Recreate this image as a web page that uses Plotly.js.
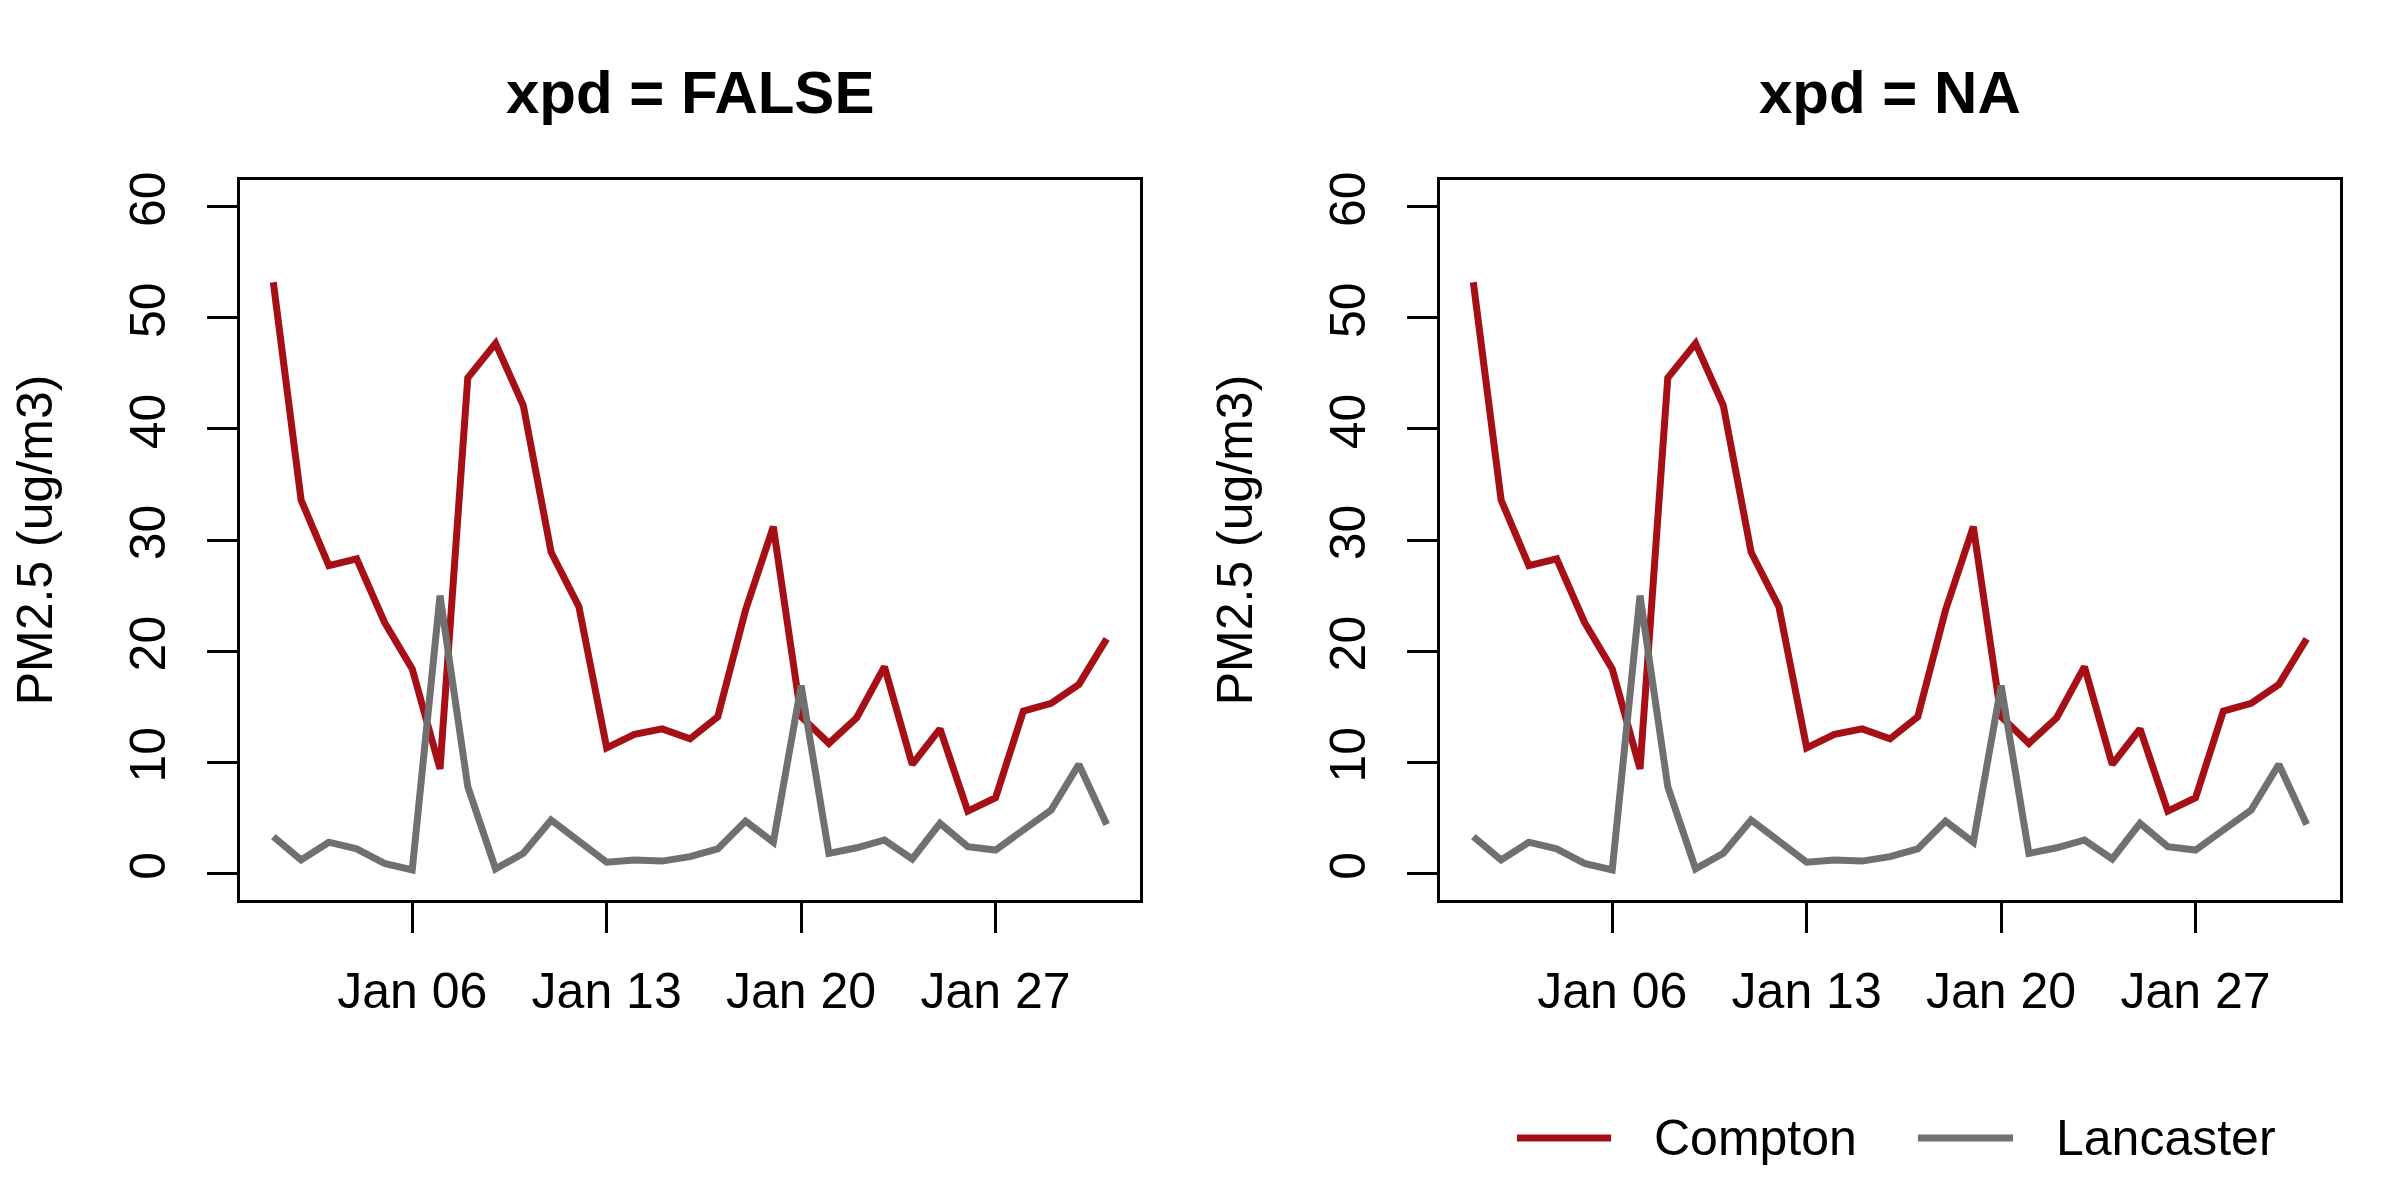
<!DOCTYPE html>
<html>
<head>
<meta charset="utf-8">
<script src="https://cdn.plot.ly/plotly-3.0.1.min.js"></script>
<style>
  html, body { margin: 0; padding: 0; background: #fff; }
  #plot { width: 2400px; height: 1200px; }
</style>
</head>
<body>
<div id="plot"></div>
<script>
var dates = [
  "2019-01-01", "2019-01-02", "2019-01-03", "2019-01-04", "2019-01-05",
  "2019-01-06", "2019-01-07", "2019-01-08", "2019-01-09", "2019-01-10",
  "2019-01-11", "2019-01-12", "2019-01-13", "2019-01-14", "2019-01-15",
  "2019-01-16", "2019-01-17", "2019-01-18", "2019-01-19", "2019-01-20",
  "2019-01-21", "2019-01-22", "2019-01-23", "2019-01-24", "2019-01-25",
  "2019-01-26", "2019-01-27", "2019-01-28", "2019-01-29", "2019-01-30",
  "2019-01-31"
];
var compton = [53.2, 33.6, 27.7, 28.3, 22.6, 18.4, 9.4, 44.6, 47.7, 42.1,
  28.9, 24.0, 11.3, 12.5, 13.0, 12.1, 14.1, 23.7, 31.2, 14.1,
  11.7, 14.0, 18.6, 9.8, 13.0, 5.6, 6.8, 14.6, 15.3, 17.0, 21.1];
var lancaster = [3.3, 1.2, 2.8, 2.2, 0.9, 0.3, 25.0, 7.8, 0.4, 1.8,
  4.8, 2.8, 1.0, 1.2, 1.1, 1.5, 2.2, 4.7, 2.8, 16.9,
  1.8, 2.3, 3.0, 1.3, 4.5, 2.4, 2.1, 3.9, 5.7, 9.8, 4.4];
var xTicks = ["2019-01-06", "2019-01-13", "2019-01-20", "2019-01-27"];
var yTicks = [0, 10, 20, 30, 40, 50, 60];
var panelTitles = ["xpd = FALSE", "xpd = NA"];
var seriesNames = ["Compton", "Lancaster"];
var seriesColors = ["#a50f15", "#707070"];

var font = "Liberation Sans, Arial, sans-serif";
var data = [];
for (var p = 0; p < 2; p++) {
  var xa = p == 0 ? "x" : "x2";
  var ya = p == 0 ? "y" : "y2";
  data.push({x: dates, y: compton, xaxis: xa, yaxis: ya, type: "scatter", mode: "lines",
    name: seriesNames[0], line: {color: seriesColors[0], width: 7}});
  data.push({x: dates, y: lancaster, xaxis: xa, yaxis: ya, type: "scatter", mode: "lines",
    name: seriesNames[1], line: {color: seriesColors[1], width: 7}});
}

function xaxis(dom) {
  return {
    domain: dom, type: "date", range: ["2018-12-30 19:12", "2019-02-01 04:48"],
    tickvals: xTicks, tickformat: "%b %d", ticks: "outside", ticklen: 30, tickwidth: 3,
    tickcolor: "#000", showline: true, linecolor: "#000", linewidth: 3, mirror: true,
    showgrid: false, zeroline: false, ticklabelstandoff: 15,
    tickfont: {family: font, size: 50, color: "#000"}
  };
}
function yaxis(anchor) {
  return {
    anchor: anchor, range: [-2.4, 62.4], tickvals: yTicks, tickangle: -90,
    ticks: "outside", ticklen: 30, tickwidth: 3, tickcolor: "#000",
    showline: true, linecolor: "#000", linewidth: 3, mirror: true,
    showgrid: false, zeroline: false, ticklabelstandoff: 22,
    tickfont: {family: font, size: 50, color: "#000"},
    title: {text: "PM2.5 (ug/m3)", standoff: 52, font: {family: font, size: 50, color: "#000"}}
  };
}

var doms = [[0, 0.428571], [0.571429, 1]];
var annotations = [];
for (var i = 0; i < 2; i++) {
  annotations.push({
    xref: "paper", yref: "paper", x: (doms[i][0] + doms[i][1]) / 2, y: 1.1222,
    xanchor: "center", yanchor: "middle", showarrow: false,
    text: "<b>" + panelTitles[i] + "</b>", font: {family: font, size: 60, color: "#000"}
  });
}
var legLine = [[0.6081, 0.6529], [0.7990, 0.8443]];
var legText = [0.6724, 0.8638];
var shapes = [];
for (var j = 0; j < 2; j++) {
  shapes.push({type: "line", xref: "paper", yref: "paper", x0: legLine[j][0], x1: legLine[j][1],
    y0: -0.3306, y1: -0.3306, line: {color: seriesColors[j], width: 7}});
  annotations.push({
    xref: "paper", yref: "paper", x: legText[j], y: -0.3306, xanchor: "left", yanchor: "middle",
    showarrow: false, text: seriesNames[j], font: {family: font, size: 50, color: "#000"}
  });
}

var layout = {
  width: 2400, height: 1200,
  margin: {l: 240, r: 60, t: 180, b: 300},
  paper_bgcolor: "#fff", plot_bgcolor: "#fff",
  showlegend: false,
  xaxis: xaxis(doms[0]), yaxis: yaxis("x"),
  xaxis2: xaxis(doms[1]), yaxis2: yaxis("x2"),
  annotations: annotations, shapes: shapes
};
Plotly.newPlot("plot", data, layout, {staticPlot: true});
</script>
</body>
</html>
